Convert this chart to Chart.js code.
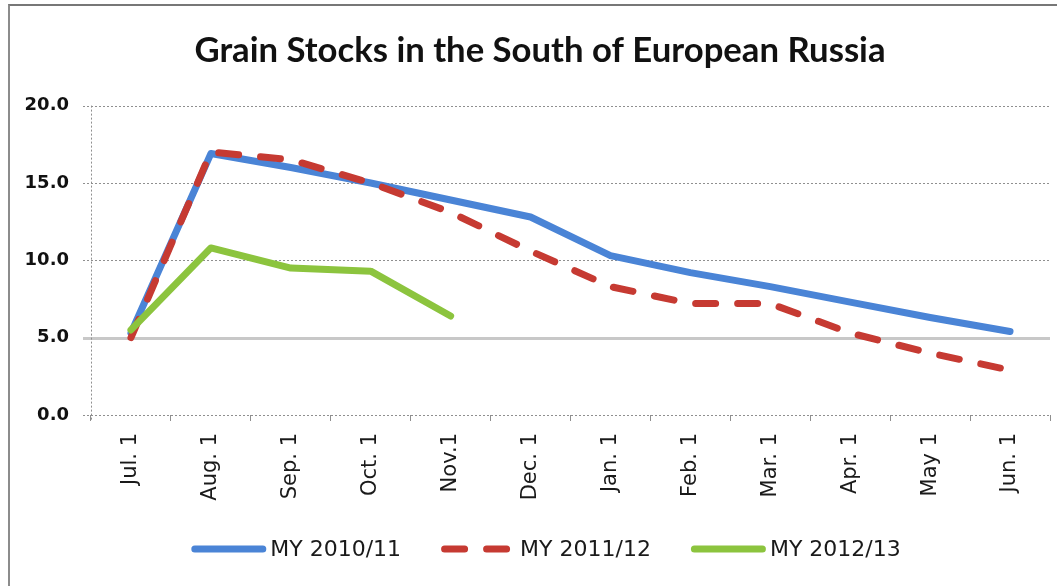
<!DOCTYPE html>
<html><head><meta charset="utf-8">
<script src="https://cdn.jsdelivr.net/npm/chart.js@4.4.1/dist/chart.umd.min.js"></script>
<style>
html,body{margin:0;padding:0;background:#fff;overflow:hidden}
#wrap{position:relative;width:1057px;height:586px}
#frame{position:absolute;left:8px;top:4px;width:1060px;height:600px;border-left:2px solid #8c8c8c;border-top:2px solid #777;box-sizing:border-box}
canvas{position:absolute;left:0;top:0}
</style></head><body>
<div id="wrap"><div id="frame"></div><canvas id="c" width="1057" height="586"></canvas></div>
<script>
const chartTitle = 'Grain Stocks in the South of European Russia';
const categories = ['Jul. 1','Aug. 1','Sep. 1','Oct. 1','Nov.1','Dec. 1','Jan. 1','Feb. 1','Mar. 1','Apr. 1','May 1','Jun. 1'];
const seriesNames = ['MY 2010/11','MY 2011/12','MY 2012/13'];
const my201011 = [5.3,16.9,16.0,15.0,13.9,12.8,10.3,9.2,8.3,7.3,6.3,5.4];
const my201112 = [5.0,17.0,16.5,15.0,13.1,10.6,8.3,7.2,7.2,5.3,4.0,2.9];
const my201213 = [5.5,10.8,9.5,9.3,6.4];
const yMin = 0, yMax = 20, yStep = 5;

const gridPlugin = {
  id:'excelGrid',
  beforeDatasetsDraw(chart){
    const {ctx, chartArea:a, scales:{y}} = chart;
    ctx.save();
    y.ticks.forEach(t=>{
      const py = Math.round(y.getPixelForValue(t.value))+0.5;
      if (t.value===5){ ctx.setLineDash([]); ctx.strokeStyle='#c8c8c8'; ctx.lineWidth=3; }
      else { ctx.setLineDash([2,2]); ctx.strokeStyle='#8f8f8f'; ctx.lineWidth=1; }
      ctx.beginPath(); ctx.moveTo(a.left-8,py); ctx.lineTo(a.right,py); ctx.stroke();
    });
    ctx.setLineDash([2,2]); ctx.strokeStyle='#8f8f8f'; ctx.lineWidth=1;
    const px = Math.round(a.left)+0.5;
    ctx.beginPath(); ctx.moveTo(px,a.top); ctx.lineTo(px,a.bottom+6); ctx.stroke();
    ctx.restore();
  }
};

const titlePlugin = {
  id:'excelTitle',
  afterDraw(chart){
    const ctx = chart.ctx;
    ctx.save();
    ctx.font = 'bold 34.7px Lato';
    ctx.fillStyle = '#111'; ctx.textAlign = 'center'; ctx.textBaseline = 'middle';
    ctx.fillText(chartTitle, 540, 51);
    ctx.restore();
  }
};

const legendPlugin = {
  id:'excelLegend',
  afterDraw(chart){
    const ctx = chart.ctx; const ds = chart.data.datasets;
    ctx.save(); ctx.font = '22px "DejaVu Sans"';
    const sw=75, gap=4, itemGap=40;
    const widths = ds.map(d=> sw+gap+ctx.measureText(d.label).width);
    const total = widths.reduce((p,q)=>p+q,0)+itemGap*(ds.length-1);
    let x = 546 - total/2; const yc = 549;
    ds.forEach((d,i)=>{
      ctx.strokeStyle=d.borderColor; ctx.lineWidth=d.borderWidth; ctx.lineCap='round';
      ctx.setLineDash(d.borderDash||[]);
      ctx.beginPath(); ctx.moveTo(x+3.5,yc); ctx.lineTo(x+sw-3.5,yc); ctx.stroke();
      ctx.setLineDash([]);
      ctx.fillStyle='#1a1a1a'; ctx.textBaseline='middle'; ctx.textAlign='left';
      ctx.fillText(d.label, x+sw+gap, yc+1);
      x += widths[i]+itemGap;
    });
    ctx.restore();
  }
};

new Chart(document.getElementById('c'), {
  type:'line',
  data:{
    labels: categories,
    datasets:[
      {label:seriesNames[0], data:my201011, borderColor:'#4a84d6', borderWidth:7, order:2},
      {label:seriesNames[1], data:my201112, borderColor:'#c63a32', borderWidth:7, borderDash:[20,22], borderCapStyle:'round', order:1},
      {label:seriesNames[2], data:my201213, borderColor:'#8cc43e', borderWidth:7, order:0}
    ]
  },
  options:{
    responsive:false, devicePixelRatio:1, animation:false,
    elements:{ point:{radius:0, hoverRadius:0}, line:{tension:0, borderJoinStyle:'round', borderCapStyle:'round', fill:false} },
    layout:{ padding:{left:0,right:7,top:105.6,bottom:0} },
    plugins:{ legend:{display:false}, tooltip:{enabled:false}, title:{display:false} },
    scales:{
      x:{
        offset:true,
        grid:{ display:true, drawOnChartArea:false, drawTicks:true, tickLength:6, color:'#8f8f8f', offset:true },
        border:{ display:false },
        ticks:{ minRotation:90, maxRotation:90, autoSkip:false, padding:12, color:'#1a1a1a', font:{family:'DejaVu Sans', size:21} },
        afterFit(s){ s.height = 586-415; }
      },
      y:{
        min:yMin, max:yMax,
        grid:{ display:false, drawTicks:false },
        border:{ display:false },
        ticks:{ stepSize:yStep, padding:22, color:'#111', font:{family:'DejaVu Sans', weight:'bold', size:18}, callback:v=>v.toFixed(1) },
        afterFit(s){ s.width = 91; }
      }
    }
  },
  plugins:[gridPlugin, titlePlugin, legendPlugin]
});
</script>
</body></html>
